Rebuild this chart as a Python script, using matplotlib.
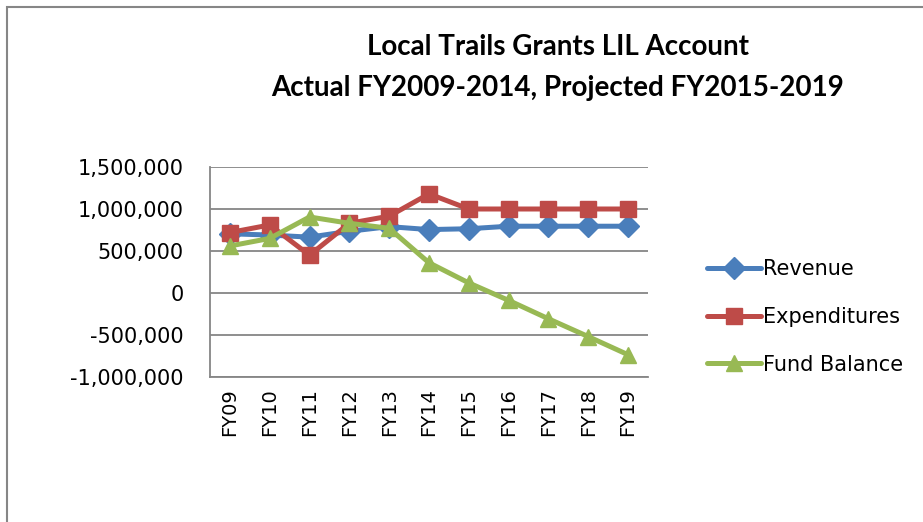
import numpy as np
import matplotlib
matplotlib.use("Agg")
import matplotlib.pyplot as plt
from matplotlib.ticker import FuncFormatter, MultipleLocator
from matplotlib.patches import Rectangle

years = ["FY09", "FY10", "FY11", "FY12", "FY13", "FY14",
         "FY15", "FY16", "FY17", "FY18", "FY19"]
revenue = [705000, 690000, 665000, 735000, 790000, 755000,
           765000, 795000, 795000, 795000, 795000]
expenditures = [720000, 810000, 450000, 830000, 915000, 1180000,
                1000000, 1000000, 1000000, 1000000, 1000000]
fund_balance = [560000, 650000, 905000, 830000, 770000, 360000,
                120000, -88000, -307000, -519000, -735000]

series = [("Revenue", revenue, "#4A7EBB", "D", 11),
          ("Expenditures", expenditures, "#BE4B48", "s", 11),
          ("Fund Balance", fund_balance, "#98B954", "^", 12)]

plt.rcParams['font.family'] = ['DejaVu Sans']

fig = plt.figure(figsize=(9.23, 5.22), dpi=100)
fig.patches.append(Rectangle((7/923, -0.1), 1.2, 1 - 7/522 + 0.1,
                             transform=fig.transFigure, fill=False,
                             edgecolor="#868686", linewidth=1.5))

ax = fig.add_axes([210/923, 1 - 377/522, (648-210)/923, (377-167)/522])
x = np.arange(len(years))
for name, vals, col, mk, ms in series:
    ax.plot(x, vals, color=col, marker=mk, markersize=ms, linewidth=3.6,
            label=name, solid_capstyle="round")

ax.set_xlim(-0.5, len(years) - 0.5)
ax.set_ylim(-1000000, 1500000)
ax.yaxis.set_major_locator(MultipleLocator(500000))
ax.yaxis.set_major_formatter(FuncFormatter(lambda v, p: f"{int(v):,}"))
ax.grid(axis="y", color="#868686", linewidth=1.3)
ax.set_axisbelow(True)
ax.set_xticks(x)
ax.set_xticklabels(years, rotation=90, fontsize=14)
ax.tick_params(axis="y", length=0, pad=19, labelsize=15)
ax.tick_params(axis="x", length=0, pad=8)
for side in ["top", "right"]:
    ax.spines[side].set_visible(False)
for side in ["left", "bottom"]:
    ax.spines[side].set_color("#868686")
    ax.spines[side].set_linewidth(1.3)

ax.legend(loc="center left", bbox_to_anchor=(688/923, 1 - 317/522),
          bbox_transform=fig.transFigure, frameon=False, fontsize=15,
          handlelength=2.6, handletextpad=0.1, labelspacing=1.33)

title_font = dict(ha="center", va="center", fontsize=20, fontweight="bold",
                  family=["Lato", "DejaVu Sans"])
fig.text(558/923, 1 - 47/522, "Local Trails Grants LIL Account", **title_font)
fig.text(558/923, 1 - 88/522, "Actual FY2009-2014, Projected FY2015-2019",
         **title_font)

fig.savefig("out.png", dpi=100)
